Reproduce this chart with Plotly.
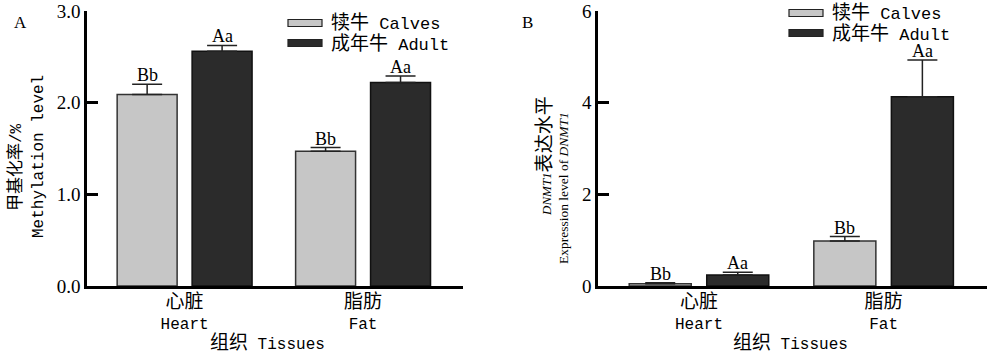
import plotly.graph_objects as go

# ---- data ----
tissues_cn = ["心脏", "脂肪"]
tissues_en = ["Heart", "Fat"]
series_names = ["犊牛 Calves", "成年牛 Adult"]

meth_calves = [2.09, 1.47]
meth_calves_err = [0.11, 0.04]
meth_adult = [2.56, 2.22]
meth_adult_err = [0.065, 0.07]
meth_calves_sig = ["Bb", "Bb"]
meth_adult_sig = ["Aa", "Aa"]

dnmt_calves = [0.05, 0.98]
dnmt_calves_err = [0.02, 0.10]
dnmt_adult = [0.24, 4.13]
dnmt_adult_err = [0.06, 0.80]
dnmt_calves_sig = ["Bb", "Bb"]
dnmt_adult_sig = ["Aa", "Aa"]

meth_ticks = [0.0, 1.0, 2.0, 3.0]
dnmt_ticks = [0, 2, 4, 6]

# ---- style ----
W, H = 999, 357
BARGAP = 0.16
BARGROUPGAP = 0.2
C_CALF = "#c6c6c6"
C_ADULT = "#2b2b2b"
MONO = "Liberation Mono, Noto Sans CJK SC"
SERIF = "Liberation Serif, Noto Sans CJK SC"

def px(x):
    return x / W

def py(y):
    return (H - y) / H

xs = list(range(len(tissues_cn)))
ticktext = [f"<span style='font-size:19px'>{c}</span><br>{e}" for c, e in zip(tissues_cn, tissues_en)]

fig = go.Figure()

def add_panel(calves, calves_err, adult, adult_err, xa, ya):
    for vals, err, col, line_col, name in [
        (calves, calves_err, C_CALF, "#333333", series_names[0]),
        (adult, adult_err, C_ADULT, "#111111", series_names[1]),
    ]:
        fig.add_trace(go.Bar(
            x=xs, y=vals, name=name, xaxis=xa, yaxis=ya, showlegend=False,
            marker=dict(color=col, line=dict(color=line_col, width=1.5)),
            error_y=dict(type="data", symmetric=False, array=err,
                         arrayminus=[0] * len(err), color="#222222",
                         thickness=1.5, width=15),
        ))

add_panel(meth_calves, meth_calves_err, meth_adult, meth_adult_err, "x", "y")
add_panel(dnmt_calves, dnmt_calves_err, dnmt_adult, dnmt_adult_err, "x2", "y2")

off = (1 - BARGAP) / 4
annotations = []

def sig_labels(vals, errs, labels, sign, xref, yref):
    for i, (v, e, t) in enumerate(zip(vals, errs, labels)):
        annotations.append(dict(
            x=xs[i] + sign * off, y=v + e, xref=xref, yref=yref, text=t,
            showarrow=False, xanchor="center", yanchor="bottom", yshift=-3,
            font=dict(family=SERIF, size=18, color="black")))

sig_labels(meth_calves, meth_calves_err, meth_calves_sig, -1, "x", "y")
sig_labels(meth_adult, meth_adult_err, meth_adult_sig, 1, "x", "y")
sig_labels(dnmt_calves, dnmt_calves_err, dnmt_calves_sig, -1, "x2", "y2")
sig_labels(dnmt_adult, dnmt_adult_err, dnmt_adult_sig, 1, "x2", "y2")

ydom = [py(286), py(11)]
xrange_ = [-0.547, 1.56]

axis_common = dict(showgrid=False, zeroline=False, showline=True,
                   linecolor="black", linewidth=2.5, automargin=False)

fig.update_layout(
    template="none",
    width=W, height=H, margin=dict(l=0, r=0, t=0, b=0, pad=0), autosize=False,
    paper_bgcolor="white", plot_bgcolor="white",
    barmode="group", bargap=BARGAP, bargroupgap=BARGROUPGAP,
    showlegend=False,
    xaxis=dict(domain=[px(87), px(463)], range=xrange_, tickvals=xs, ticktext=ticktext,
               ticks="", tickfont=dict(family=MONO, size=16, color="black"),
               anchor="y", **axis_common),
    yaxis=dict(domain=ydom, range=[0, 3], tickvals=meth_ticks, tickformat=".1f",
               ticks="inside", ticklen=11, tickwidth=2.5, tickcolor="black",
               tickfont=dict(family=SERIF, size=19, color="black"),
               anchor="x", **axis_common),
    xaxis2=dict(domain=[px(598), px(987)], range=xrange_, tickvals=xs, ticktext=ticktext,
                ticks="", tickfont=dict(family=MONO, size=16, color="black"),
                anchor="y2", **axis_common),
    yaxis2=dict(domain=ydom, range=[0, 6], tickvals=dnmt_ticks,
                ticks="inside", ticklen=11, tickwidth=2.5, tickcolor="black",
                tickfont=dict(family=SERIF, size=19, color="black"),
                anchor="x2", **axis_common),
)

def ptext(x, y, text, font, xanchor="center", angle=0):
    annotations.append(dict(x=px(x), y=py(y), xref="paper", yref="paper", text=text,
                            textangle=angle, showarrow=False, xanchor=xanchor,
                            yanchor="middle", font=font))

# panel letters
ptext(20, 23, "A", dict(family=SERIF, size=17, color="black"))
ptext(527, 22, "B", dict(family=SERIF, size=17, color="black"))

# y-axis titles
ptext(16, 167, "<span style='font-size:17px'>甲基化率</span>/%",
      dict(family=MONO, size=16, color="black"), angle=-90)
ptext(39, 157, "Methylation level", dict(family=MONO, size=16, color="black"), angle=-90)
ptext(544, 156, "<i>DNMT1</i><span style='font-size:19px'>表达水平</span>",
      dict(family=SERIF, size=13, color="black"), angle=-90)
ptext(563, 188, "Expression level of <i>DNMT1</i>",
      dict(family=SERIF, size=13.5, color="black"), angle=-90)

# x-axis titles
for cx in (267, 790):
    ptext(cx, 343, "<span style='font-size:19px'>组织</span> Tissues",
          dict(family=MONO, size=16, color="black"))

# legends (drawn)
shapes = []
for (lx, ly0) in [(288, 23), (789, 13)]:
    for k, (col, name) in enumerate([(C_CALF, series_names[0]), (C_ADULT, series_names[1])]):
        cy = ly0 + 20 * k
        shapes.append(dict(type="rect", xref="paper", yref="paper",
                           x0=px(lx), x1=px(lx + 34), y0=py(cy + 3.5), y1=py(cy - 3.5),
                           fillcolor=col, line=dict(color="#222222", width=1.2)))
        cn, en = name.split(" ")
        ptext(lx + 41, cy + 1, f"<span style='font-size:19px'>{cn}</span> {en}",
              dict(family=MONO, size=17, color="black"), xanchor="left")

fig.update_layout(annotations=annotations, shapes=shapes)
fig.write_html("out.html", config={"displayModeBar": False},
               post_script="document.body.style.margin='0px';")
